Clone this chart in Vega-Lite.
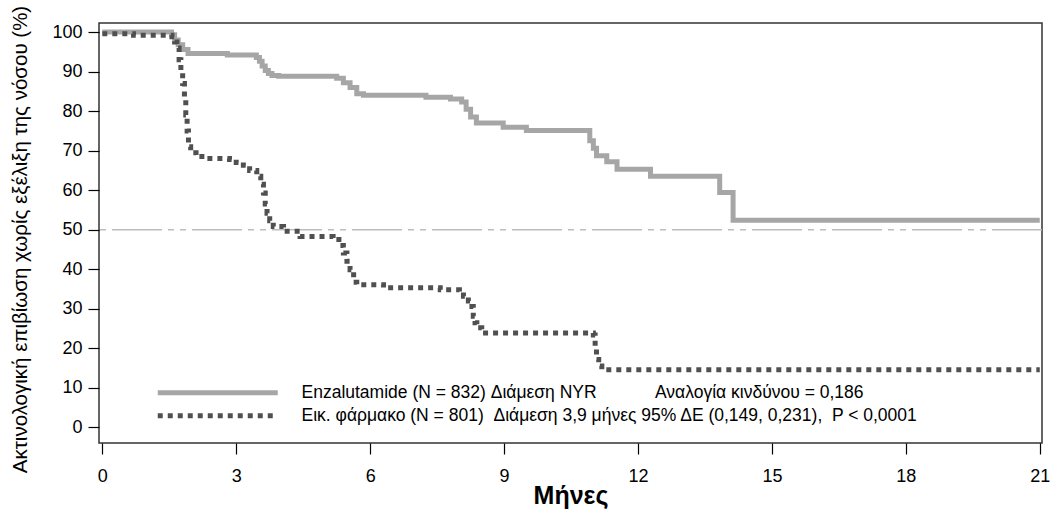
{
  "$schema": "https://vega.github.io/schema/vega-lite/v6.json",
  "width": 943,
  "height": 420,
  "autosize": "none",
  "padding": {"left": 99, "top": 23, "right": 12, "bottom": 71},
  "config": {
    "font": "Liberation Sans",
    "view": {"stroke": "#333333", "strokeWidth": 1.5},
    "axis": {"grid": false, "domain": false, "tickColor": "#000000", "tickWidth": 1.2, "labelColor": "#000000", "titleColor": "#000000", "labelFontSize": 18, "labelFont": "Liberation Sans"},
    "legend": {"padding": 0}
  },
  "layer": [
    {
      "data": {"values": [{"ref": 50}]},
      "mark": {"type": "rule", "color": "#bdbdbd", "strokeWidth": 1.5, "strokeDash": [50, 6, 6, 6, 6, 6]},
      "encoding": {"y": {"field": "ref", "type": "quantitative", "scale": {"domain": [-3.95, 102.3], "nice": false, "zero": false}}}
    },
    {
      "data": {"values": [
        {"group": "Enzalutamide", "month": 0, "surv": 100},
        {"group": "Enzalutamide", "month": 1.55, "surv": 99.3},
        {"group": "Enzalutamide", "month": 1.62, "surv": 98},
        {"group": "Enzalutamide", "month": 1.7, "surv": 96.8},
        {"group": "Enzalutamide", "month": 1.8, "surv": 95.6},
        {"group": "Enzalutamide", "month": 1.92, "surv": 94.6},
        {"group": "Enzalutamide", "month": 2.8, "surv": 94.2},
        {"group": "Enzalutamide", "month": 3.45, "surv": 93.6},
        {"group": "Enzalutamide", "month": 3.52, "surv": 92.6},
        {"group": "Enzalutamide", "month": 3.58, "surv": 91.4},
        {"group": "Enzalutamide", "month": 3.65, "surv": 90.3},
        {"group": "Enzalutamide", "month": 3.72, "surv": 89.5},
        {"group": "Enzalutamide", "month": 3.8, "surv": 89.0},
        {"group": "Enzalutamide", "month": 3.95, "surv": 88.8},
        {"group": "Enzalutamide", "month": 5.25, "surv": 88.3},
        {"group": "Enzalutamide", "month": 5.4, "surv": 87.2},
        {"group": "Enzalutamide", "month": 5.55, "surv": 86},
        {"group": "Enzalutamide", "month": 5.7, "surv": 84.4},
        {"group": "Enzalutamide", "month": 5.85, "surv": 84},
        {"group": "Enzalutamide", "month": 7.25, "surv": 83.5},
        {"group": "Enzalutamide", "month": 7.8, "surv": 83.1},
        {"group": "Enzalutamide", "month": 8.05, "surv": 82.3},
        {"group": "Enzalutamide", "month": 8.15, "surv": 80.5},
        {"group": "Enzalutamide", "month": 8.25, "surv": 78.5},
        {"group": "Enzalutamide", "month": 8.38, "surv": 77},
        {"group": "Enzalutamide", "month": 8.98, "surv": 75.9},
        {"group": "Enzalutamide", "month": 9.5, "surv": 75.1},
        {"group": "Enzalutamide", "month": 10.92, "surv": 72.5},
        {"group": "Enzalutamide", "month": 11.0, "surv": 70.6},
        {"group": "Enzalutamide", "month": 11.07, "surv": 68.7},
        {"group": "Enzalutamide", "month": 11.3, "surv": 67.2},
        {"group": "Enzalutamide", "month": 11.53, "surv": 65.3},
        {"group": "Enzalutamide", "month": 12.28, "surv": 63.5},
        {"group": "Enzalutamide", "month": 13.83, "surv": 59.4},
        {"group": "Enzalutamide", "month": 14.13, "surv": 52.4},
        {"group": "Enzalutamide", "month": 21, "surv": 52.4},
        {"group": "Placebo", "month": 0, "surv": 99.6},
        {"group": "Placebo", "month": 0.7, "surv": 99.2},
        {"group": "Placebo", "month": 1.56, "surv": 98.8},
        {"group": "Placebo", "month": 1.62, "surv": 97.5},
        {"group": "Placebo", "month": 1.67, "surv": 96},
        {"group": "Placebo", "month": 1.72, "surv": 93},
        {"group": "Placebo", "month": 1.76, "surv": 90},
        {"group": "Placebo", "month": 1.8, "surv": 87},
        {"group": "Placebo", "month": 1.84, "surv": 83},
        {"group": "Placebo", "month": 1.87, "surv": 79},
        {"group": "Placebo", "month": 1.9, "surv": 75},
        {"group": "Placebo", "month": 1.93, "surv": 71},
        {"group": "Placebo", "month": 1.98, "surv": 69.5},
        {"group": "Placebo", "month": 2.1, "surv": 68.5},
        {"group": "Placebo", "month": 2.3, "surv": 68},
        {"group": "Placebo", "month": 2.85, "surv": 67.8},
        {"group": "Placebo", "month": 3.0, "surv": 67},
        {"group": "Placebo", "month": 3.16, "surv": 66.3},
        {"group": "Placebo", "month": 3.3, "surv": 65},
        {"group": "Placebo", "month": 3.46, "surv": 63.5},
        {"group": "Placebo", "month": 3.55, "surv": 61.5},
        {"group": "Placebo", "month": 3.61, "surv": 59.3},
        {"group": "Placebo", "month": 3.65, "surv": 56.5},
        {"group": "Placebo", "month": 3.69, "surv": 54.2},
        {"group": "Placebo", "month": 3.75, "surv": 52.3},
        {"group": "Placebo", "month": 3.83, "surv": 50.8},
        {"group": "Placebo", "month": 4.06, "surv": 49.6},
        {"group": "Placebo", "month": 4.43, "surv": 48.3},
        {"group": "Placebo", "month": 5.17, "surv": 47.5},
        {"group": "Placebo", "month": 5.3, "surv": 46},
        {"group": "Placebo", "month": 5.4, "surv": 44.1},
        {"group": "Placebo", "month": 5.48, "surv": 42},
        {"group": "Placebo", "month": 5.55, "surv": 39.9},
        {"group": "Placebo", "month": 5.63, "surv": 36.7},
        {"group": "Placebo", "month": 5.7, "surv": 36.1},
        {"group": "Placebo", "month": 6.3, "surv": 35.3},
        {"group": "Placebo", "month": 7.57, "surv": 34.8},
        {"group": "Placebo", "month": 8.0, "surv": 34.2},
        {"group": "Placebo", "month": 8.09, "surv": 33.2},
        {"group": "Placebo", "month": 8.2, "surv": 32},
        {"group": "Placebo", "month": 8.28, "surv": 30.6},
        {"group": "Placebo", "month": 8.31, "surv": 28.1},
        {"group": "Placebo", "month": 8.35, "surv": 26.5},
        {"group": "Placebo", "month": 8.39, "surv": 25.2},
        {"group": "Placebo", "month": 8.5, "surv": 23.9},
        {"group": "Placebo", "month": 11.0, "surv": 23.4},
        {"group": "Placebo", "month": 11.04, "surv": 20.5},
        {"group": "Placebo", "month": 11.07, "surv": 17.2},
        {"group": "Placebo", "month": 11.12, "surv": 15.5},
        {"group": "Placebo", "month": 11.19, "surv": 14.6},
        {"group": "Placebo", "month": 21, "surv": 14.6}
      ]},
      "mark": {"type": "line", "interpolate": "step-after", "strokeWidth": 5, "strokeCap": "butt"},
      "encoding": {
        "x": {"field": "month", "type": "quantitative",
          "scale": {"domain": [-0.074, 21.05], "nice": false, "zero": false},
          "axis": {"values": [0, 3, 6, 9, 12, 15, 18, 21], "tickSize": 11, "labelPadding": 13, "title": "Μήνες", "titleFontSize": 25, "titleFontWeight": "bold", "titleY": 52, "titleBaseline": "middle"}},
        "y": {"field": "surv", "type": "quantitative",
          "scale": {"domain": [-3.95, 102.3], "nice": false, "zero": false},
          "axis": {"values": [0, 10, 20, 30, 40, 50, 60, 70, 80, 90, 100], "tickSize": 11, "labelPadding": 6, "title": "Ακτινολογική επιβίωση χωρίς εξέλιξη της νόσου (%)", "titleFontSize": 20.5, "titleFontWeight": "normal", "titleX": -79, "titleY": 216, "titleAngle": -90, "titleAlign": "center", "titleBaseline": "middle"}},
        "color": {"field": "group", "type": "nominal",
          "scale": {"domain": ["Enzalutamide", "Placebo"], "range": ["#a6a6a6", "#505050"]},
          "legend": {"title": null, "orient": "none", "legendX": 110, "legendY": 361, "direction": "vertical",
            "symbolType": "M-12,0H12", "symbolSize": 100, "symbolStrokeWidth": 5, "labelOffset": 75, "rowPadding": 2,
            "labelFontSize": 17.5, "labelColor": "#000000", "labelLimit": 1000,
            "labelExpr": "datum.label === 'Enzalutamide' ? 'Enzalutamide (N = 832) Διάμεση NYR\u00a0\u00a0\u00a0\u00a0\u00a0\u00a0\u00a0\u00a0\u00a0\u00a0\u00a0\u00a0Αναλογία κινδύνου = 0,186' : 'Εικ. φάρμακο (N = 801)\u00a0\u00a0Διάμεση 3,9 μήνες\u00a095% ΔΕ (0,149, 0,231),\u00a0\u00a0P < 0,0001'"}},
        "strokeDash": {"field": "group", "type": "nominal",
          "scale": {"domain": ["Enzalutamide", "Placebo"], "range": [[1, 0], [5, 5]]}}
      }
    }
  ]
}
